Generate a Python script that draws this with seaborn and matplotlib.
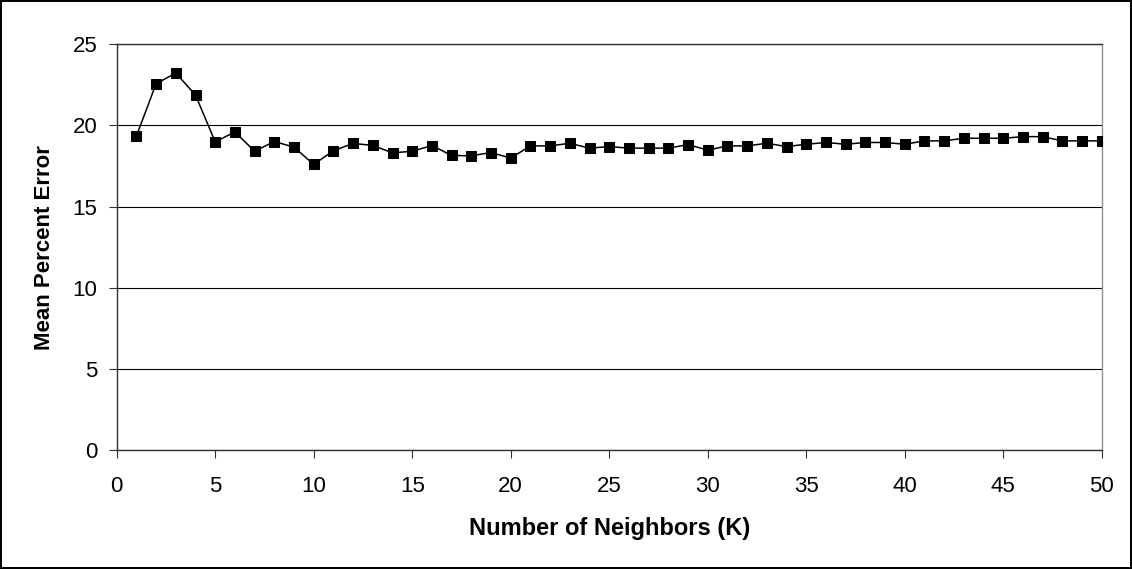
import matplotlib
matplotlib.use("Agg")
import matplotlib.pyplot as plt
import seaborn as sns
import pandas as pd

k_values = list(range(1, 51))
mean_percent_error = [
    19.34, 22.57, 23.23, 21.87, 18.99, 19.60, 18.41, 19.01, 18.66, 17.60,
    18.44, 18.89, 18.77, 18.31, 18.41, 18.76, 18.15, 18.13, 18.33, 17.99,
    18.74, 18.74, 18.90, 18.60, 18.70, 18.60, 18.60, 18.60, 18.82, 18.48,
    18.74, 18.74, 18.90, 18.70, 18.84, 18.95, 18.84, 18.95, 18.95, 18.84,
    19.05, 19.05, 19.21, 19.21, 19.21, 19.31, 19.31, 19.05, 19.05, 19.05,
]
x_ticks = [0, 5, 10, 15, 20, 25, 30, 35, 40, 45, 50]
y_ticks = [0, 5, 10, 15, 20, 25]

df = pd.DataFrame({"K": k_values, "err": mean_percent_error})

sns.set_theme(style="white")
plt.rcParams['font.family'] = ['Liberation Sans', 'DejaVu Sans']
plt.rcParams['text.color'] = 'black'
plt.rcParams['axes.labelcolor'] = 'black'
plt.rcParams['xtick.color'] = 'black'
plt.rcParams['ytick.color'] = 'black'

W, H = 1132, 569
fig = plt.figure(figsize=(W / 100, H / 100), dpi=100)
fig.patch.set_facecolor("white")
fig.patch.set_edgecolor("black")
fig.patch.set_linewidth(1.5)

left, right, top, bottom = 116.7, 1101.7, 44.3, 450.0
ax = fig.add_axes([left / W, (H - bottom) / H, (right - left) / W, (bottom - top) / H])

sns.lineplot(data=df, x="K", y="err", ax=ax, color="black", linewidth=1.1,
             marker="s", markersize=7.5, markeredgecolor="black",
             markerfacecolor="black", zorder=3)

ax.set_xlim(0, 50)
ax.set_ylim(0, 25)
ax.set_xticks(x_ticks)
ax.set_yticks(y_ticks)
ax.yaxis.grid(True, color="black", linewidth=0.8)
ax.xaxis.grid(False)
ax.set_axisbelow(True)

for s in ["left", "bottom", "top"]:
    ax.spines[s].set_color("#303030")
    ax.spines[s].set_linewidth(1.0)
ax.spines["right"].set_color("#909090")
ax.spines["right"].set_linewidth(1.0)

ax.tick_params(axis="both", which="both", direction="out", length=5.8, width=0.8,
               color="#303030", labelcolor="black", labelsize=16, bottom=True, left=True)
ax.tick_params(axis="x", pad=13)
ax.tick_params(axis="y", pad=8)

ax.set_xlabel("Number of Neighbors (K)", fontsize=17, fontweight="bold", labelpad=14, color="black")
ax.set_ylabel("Mean Percent Error", fontsize=16, fontweight="bold", labelpad=13, color="black")

fig.savefig("out.png", dpi=100, facecolor=fig.get_facecolor(), edgecolor=fig.get_edgecolor())
